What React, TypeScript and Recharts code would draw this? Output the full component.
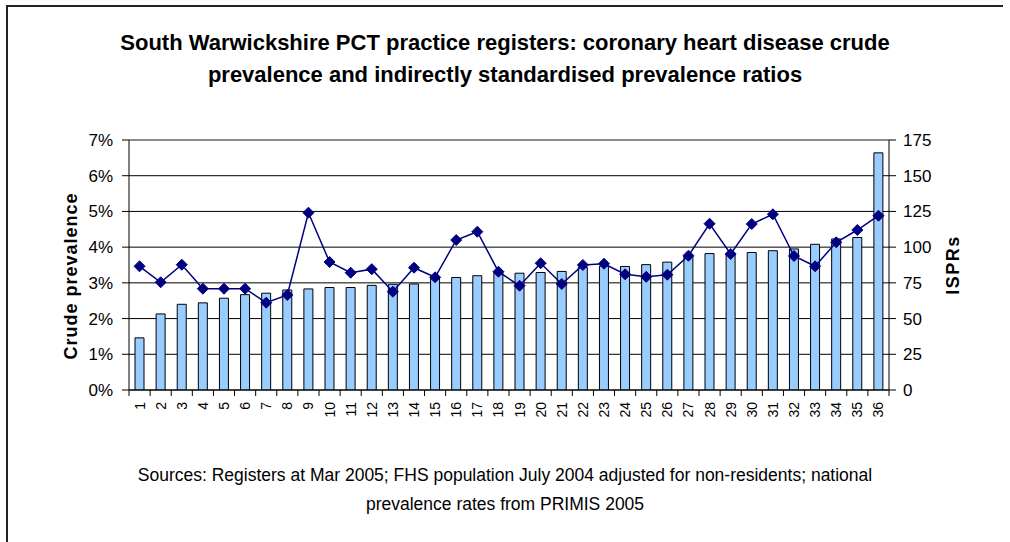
import React from 'react';
import { ComposedChart, Bar, Line, XAxis, YAxis, CartesianGrid, ReferenceLine } from 'recharts';

const practices = ['1','2','3','4','5','6','7','8','9','10','11','12','13','14','15','16','17','18','19','20','21','22','23','24','25','26','27','28','29','30','31','32','33','34','35','36'];
const crudePrevalence = [1.46, 2.13, 2.40, 2.44, 2.57, 2.67, 2.71, 2.80, 2.83, 2.87, 2.87, 2.93, 2.96, 2.97, 3.13, 3.15, 3.20, 3.29, 3.27, 3.29, 3.32, 3.43, 3.47, 3.46, 3.51, 3.58, 3.75, 3.82, 3.82, 3.85, 3.90, 3.95, 4.08, 4.23, 4.27, 6.64];
const isprs = [86.6, 75.4, 87.7, 70.9, 70.9, 70.9, 61.1, 66.5, 124.1, 89.6, 82.1, 84.6, 68.8, 85.6, 78.9, 105, 110.8, 82.8, 73, 88.7, 74.2, 87.5, 88.4, 81, 79.2, 80.7, 94, 116.4, 95.2, 116.2, 123, 93.8, 86.6, 103.4, 112, 122];
const leftTicks = [0, 1, 2, 3, 4, 5, 6, 7];
const rightTicks = [0, 25, 50, 75, 100, 125, 150, 175];

const data = practices.map((p, i) => ({ practice: p, crude: crudePrevalence[i], ispr: isprs[i] }));

const W = 1010;
const H = 542;
const MARGIN = { top: 140, right: 61, bottom: 112, left: 69 };
const YW = 60;
const XH = 40;
const plotW = W - MARGIN.left - MARGIN.right - 2 * YW;
const halfBand = plotW / practices.length / 2;
const FONT = '"Liberation Sans", Arial, sans-serif';

const XTick = (props: any) => {
  const { x, y, payload, index } = props;
  const ty = y + 12;
  return (
    <g>
      <line x1={x - halfBand} x2={x - halfBand} y1={y} y2={y + 6} stroke="#000" />
      {index === practices.length - 1 && (
        <line x1={x + halfBand} x2={x + halfBand} y1={y} y2={y + 6} stroke="#000" />
      )}
      <text
        x={x}
        y={ty}
        transform={`rotate(-90, ${x}, ${ty})`}
        textAnchor="end"
        dominantBaseline="central"
        fontSize={14}
        fontFamily={FONT}
        fill="#000"
      >
        {payload.value}
      </text>
    </g>
  );
};

const Diamond = (props: any) => {
  const { cx, cy } = props;
  if (cx == null || cy == null) return null;
  const r = 5.5;
  return (
    <polygon
      points={`${cx},${cy - r} ${cx + r},${cy} ${cx},${cy + r} ${cx - r},${cy}`}
      fill="#000080"
      stroke="#000080"
    />
  );
};

export default function App() {
  return (
    <div style={{ position: 'absolute', left: 0, top: 0, width: W, height: H, background: '#fff', fontFamily: FONT, overflow: 'hidden' }}>
      <div style={{ position: 'absolute', left: 6, top: 5, width: 995, height: 600, borderLeft: '2px solid #222', borderTop: '2px solid #222' }} />
      <ComposedChart width={W} height={H} data={data} margin={MARGIN}>
        <CartesianGrid vertical={false} stroke="#000" yAxisId="left" />
        <XAxis
          dataKey="practice"
          interval={0}
          height={XH}
          tickLine={false}
          tickSize={0}
          tickMargin={0}
          axisLine={{ stroke: '#000' }}
          tick={<XTick />}
        />
        <YAxis
          yAxisId="left"
          width={YW}
          domain={[0, 7]}
          ticks={leftTicks}
          tickFormatter={(v: number) => `${v}%`}
          tickSize={7}
          tickMargin={9}
          axisLine={{ stroke: '#000' }}
          tickLine={{ stroke: '#000' }}
          tick={{ fontSize: 17, fill: '#000', fontFamily: FONT }}
          allowDataOverflow
        />
        <YAxis
          yAxisId="right"
          orientation="right"
          width={YW}
          domain={[0, 175]}
          ticks={rightTicks}
          tickSize={7}
          tickMargin={7}
          axisLine={{ stroke: '#000' }}
          tickLine={{ stroke: '#000' }}
          tick={{ fontSize: 17, fill: '#000', fontFamily: FONT }}
          allowDataOverflow
        />
        <ReferenceLine yAxisId="left" y={7} stroke="#999" />
        <Bar yAxisId="left" dataKey="crude" fill="#99CCFF" stroke="#000" strokeWidth={1} barSize={9} isAnimationActive={false} />
        <Line yAxisId="right" dataKey="ispr" stroke="#000080" strokeWidth={1.5} dot={<Diamond />} activeDot={false} isAnimationActive={false} />
      </ComposedChart>
      <svg width={W} height={H} style={{ position: 'absolute', left: 0, top: 0, pointerEvents: 'none' }}>
        <text x={71} y={276} transform="rotate(-90, 71, 276)" textAnchor="middle" dominantBaseline="central" fontSize={18} fontWeight="bold" letterSpacing={1} fontFamily={FONT} fill="#000">
          Crude prevalence
        </text>
        <text x={953} y={265} transform="rotate(-90, 953, 265)" textAnchor="middle" dominantBaseline="central" fontSize={18} fontWeight="bold" letterSpacing={1.5} fontFamily={FONT} fill="#000">
          ISPRs
        </text>
      </svg>
      <div style={{ position: 'absolute', left: 0, top: 27, width: W, textAlign: 'center', fontSize: 22, fontWeight: 'bold', lineHeight: '32px', color: '#000' }}>
        South Warwickshire PCT practice registers: coronary heart disease crude<br />
        prevalence and indirectly standardised prevalence ratios
      </div>
      <div style={{ position: 'absolute', left: 0, top: 461, width: W, textAlign: 'center', fontSize: 17.5, lineHeight: '29px', color: '#000' }}>
        Sources: Registers at Mar 2005; FHS population July 2004 adjusted for non-residents; national<br />
        prevalence rates from PRIMIS 2005
      </div>
    </div>
  );
}
